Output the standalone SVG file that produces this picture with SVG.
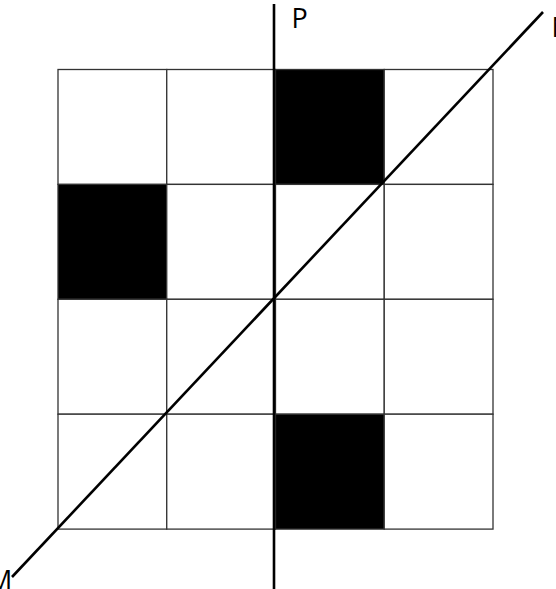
<svg xmlns="http://www.w3.org/2000/svg" width="556" height="589" viewBox="0 0 556 589">
<style>
.cell{fill:#fff;stroke:#333;stroke-width:1.3}
.dark{fill:#000;stroke:#333;stroke-width:1.3}
.axis{stroke:#000;stroke-width:2.6;fill:none}
.lbl{font-family:"Open Sans","DejaVu Sans",sans-serif;font-size:27px;fill:#000}
</style>
<rect width="556" height="589" fill="#fff"/>
<g id="grid">
<rect class="cell" x="58" y="69.5" width="108.75" height="114.9"/>
<rect class="cell" x="166.75" y="69.5" width="108.75" height="114.9"/>
<rect class="dark" x="275.5" y="69.5" width="108.75" height="114.9"/>
<rect class="cell" x="384.25" y="69.5" width="108.75" height="114.9"/>
<rect class="dark" x="58" y="184.4" width="108.75" height="114.9"/>
<rect class="cell" x="166.75" y="184.4" width="108.75" height="114.9"/>
<rect class="cell" x="275.5" y="184.4" width="108.75" height="114.9"/>
<rect class="cell" x="384.25" y="184.4" width="108.75" height="114.9"/>
<rect class="cell" x="58" y="299.3" width="108.75" height="114.9"/>
<rect class="cell" x="166.75" y="299.3" width="108.75" height="114.9"/>
<rect class="cell" x="275.5" y="299.3" width="108.75" height="114.9"/>
<rect class="cell" x="384.25" y="299.3" width="108.75" height="114.9"/>
<rect class="cell" x="58" y="414.2" width="108.75" height="114.9"/>
<rect class="cell" x="166.75" y="414.2" width="108.75" height="114.9"/>
<rect class="dark" x="275.5" y="414.2" width="108.75" height="114.9"/>
<rect class="cell" x="384.25" y="414.2" width="108.75" height="114.9"/>
</g>
<g id="connectors">
<line class="axis" x1="274" y1="4" x2="274" y2="589"/>
<line class="axis" x1="543" y1="12" x2="12" y2="577"/>
</g>
<g id="labels">
<text class="lbl" x="291.5" y="28">P</text>
<text class="lbl" x="551.5" y="37">N</text>
<text class="lbl" x="-12" y="590">M</text>
</g>
</svg>
